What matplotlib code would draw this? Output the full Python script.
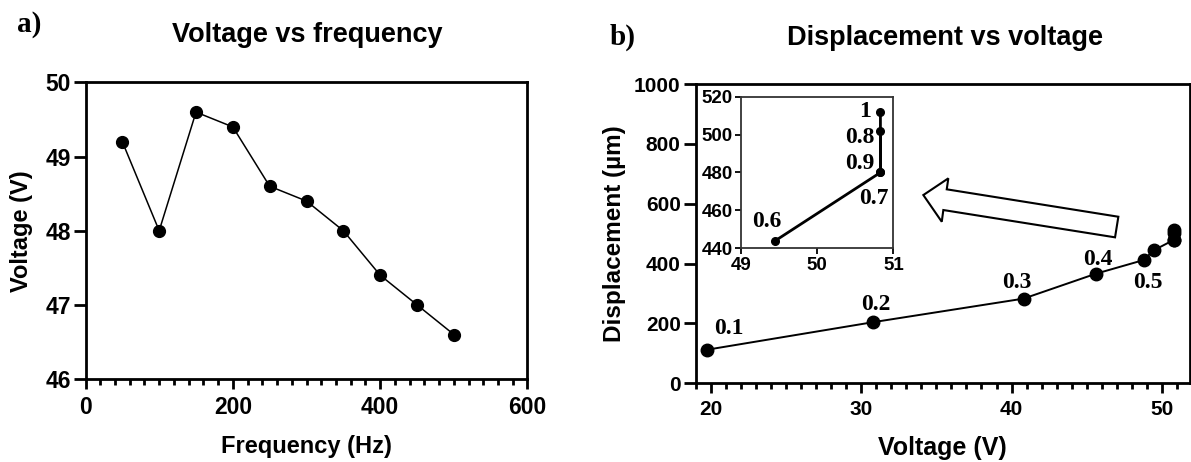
import matplotlib
matplotlib.use("Agg")
import matplotlib.pyplot as plt
from matplotlib.patches import Polygon
from matplotlib.ticker import MultipleLocator

# Panel a: voltage against drive frequency
frequency_hz = [50, 100, 150, 200, 250, 300, 350, 400, 450, 500]
voltage_v = [49.2, 48.0, 49.6, 49.4, 48.6, 48.4, 48.0, 47.4, 47.0, 46.6]

# Panel b: displacement against voltage, each point tagged with its setting
point_labels = ["0.1", "0.2", "0.3", "0.4", "0.5", "0.6", "0.7", "0.8", "0.9", "1"]
volt_b = [19.7, 30.75, 40.8, 45.6, 48.8, 49.45, 50.83, 50.83, 50.83, 50.83]
displacement_um = [112, 204, 283, 366, 412, 444, 480, 502, 480, 512]

# label offsets (points) for the main panel (first five) and the inset (rest)
main_offsets = [(16, 15), (2.5, 13), (-5, 11.5), (1.5, 10), (3, -16.5)]
inset_offsets = [(-6, 13.5), (-5, -19), (-15, -4.5), (-15, 6.5), (-11, 0)]

SANS = ["Liberation Sans", "Arial", "DejaVu Sans"]
SERIF = ["Liberation Serif", "Times New Roman", "DejaVu Serif"]
plt.rcParams["font.family"] = SANS
plt.rcParams["font.weight"] = "bold"
plt.rcParams["axes.labelweight"] = "bold"

fig = plt.figure(figsize=(11.91, 4.62), dpi=100)

# ---------- panel a ----------
ax_a = fig.add_axes([0.0718, 0.1797, 0.3711, 0.6418])
ax_a.plot(frequency_hz, voltage_v, color="black", lw=1.1, marker="o", ms=8.5,
          markerfacecolor="black", markeredgecolor="black", clip_on=False)
ax_a.set_xlim(0, 600)
ax_a.set_ylim(46, 50)
ax_a.xaxis.set_major_locator(MultipleLocator(200))
ax_a.xaxis.set_minor_locator(MultipleLocator(20))
ax_a.yaxis.set_major_locator(MultipleLocator(1))
for sp in ax_a.spines.values():
    sp.set_linewidth(2.0)
ax_a.tick_params(axis="both", which="major", width=2.0, length=7, labelsize=16.5, pad=5)
ax_a.tick_params(axis="y", which="major", length=8.5, pad=2)
ax_a.tick_params(axis="x", which="minor", width=2.0, length=4)
ax_a.set_xlabel("Frequency (Hz)", fontsize=17, labelpad=12)
ax_a.set_ylabel("Voltage (V)", fontsize=17, labelpad=9)
fig.text(307 / 1191, 1 - 35 / 462, "Voltage vs frequency", ha="center", va="center",
         fontsize=19.5, fontweight="bold")
fig.text(29 / 1191, 1 - 25 / 462, "a)", ha="center", va="center",
         fontsize=21, fontweight="bold", family=SERIF)

# ---------- panel b ----------
ax_b = fig.add_axes([0.5844, 0.1703, 0.4144, 0.6478])
ax_b.plot(volt_b, displacement_um, color="black", lw=1.4, marker="o", ms=9,
          markerfacecolor="black", markeredgecolor="black", clip_on=False)
ax_b.set_xlim(19.0, 51.85)
ax_b.set_ylim(0, 1000)
ax_b.xaxis.set_major_locator(MultipleLocator(10))
ax_b.xaxis.set_minor_locator(MultipleLocator(1))
ax_b.yaxis.set_major_locator(MultipleLocator(200))
for sp in ax_b.spines.values():
    sp.set_linewidth(2.0)
ax_b.tick_params(axis="both", which="major", width=2.0, length=7, labelsize=15, pad=5)
ax_b.tick_params(axis="y", which="major", length=9, pad=2)
ax_b.tick_params(axis="x", which="minor", width=2.0, length=4)
ax_b.set_xlabel("Voltage (V)", fontsize=18, labelpad=12)
ax_b.set_ylabel("Displacement (µm)", fontsize=17.5, labelpad=6)
for lab, x, y, off in zip(point_labels[:5], volt_b[:5], displacement_um[:5], main_offsets):
    ax_b.annotate(lab, (x, y), xytext=off, textcoords="offset points", ha="center",
                  va="center", fontsize=17, fontweight="bold", family=SERIF)
fig.text(945 / 1191, 1 - 38 / 462, "Displacement vs voltage", ha="center", va="center",
         fontsize=19.5, fontweight="bold")
fig.text(623 / 1191, 1 - 37 / 462, "b)", ha="center", va="center",
         fontsize=21, fontweight="bold", family=SERIF)

# hollow arrow pointing from the clustered points toward the inset
arrow_outline = [(0.4606, 0.6291), (0.5112, 0.6849), (0.5080, 0.6482), (0.8557, 0.5566),
                 (0.8490, 0.4878), (0.5011, 0.5790), (0.4979, 0.5399)]
ax_b.add_patch(Polygon(arrow_outline, closed=True, transform=ax_b.transAxes,
                       facecolor="white", edgecolor="black", lw=1.5))

# ---------- inset ----------
ax_in = fig.add_axes([0.6222, 0.4626, 0.1279, 0.3281])
ax_in.plot(volt_b[5:], displacement_um[5:], color="black", lw=2.0, marker="o", ms=5.5,
           markerfacecolor="black", markeredgecolor="black", clip_on=False)
ax_in.set_xlim(49, 51)
ax_in.set_ylim(440, 520)
ax_in.xaxis.set_major_locator(MultipleLocator(1))
ax_in.yaxis.set_major_locator(MultipleLocator(20))
for sp in ax_in.spines.values():
    sp.set_linewidth(1.3)
    sp.set_color("#333333")
ax_in.tick_params(axis="both", which="major", width=1.3, length=4, labelsize=13.5, pad=2)
for lab, x, y, off in zip(point_labels[5:], volt_b[5:], displacement_um[5:], inset_offsets):
    ax_in.annotate(lab, (x, y), xytext=off, textcoords="offset points", ha="center",
                   va="center", fontsize=17, fontweight="bold", family=SERIF)

fig.savefig("out.png", dpi=100)
